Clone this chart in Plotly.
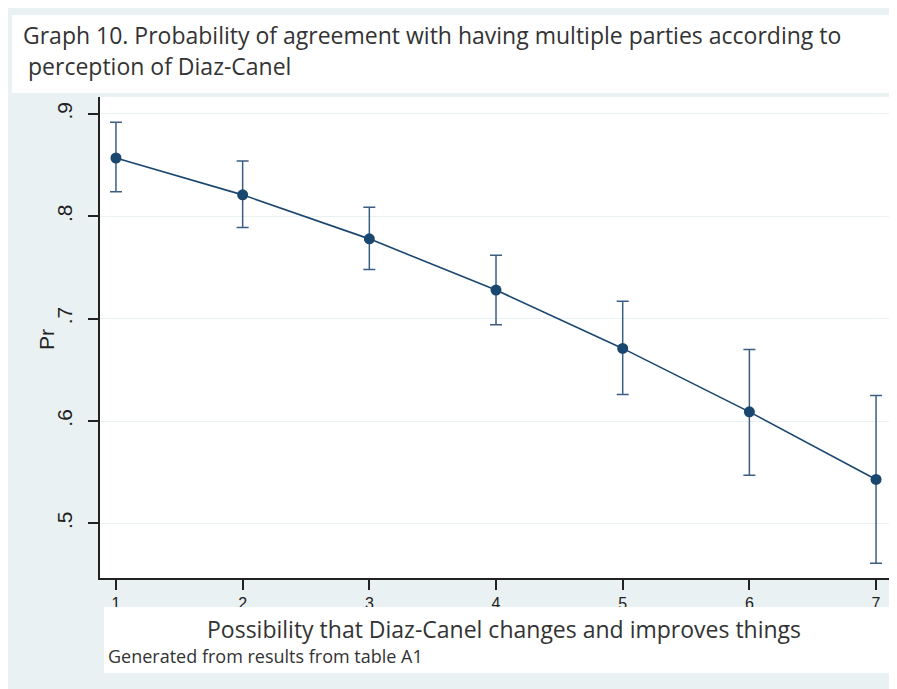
import plotly.graph_objects as go

x_vals = [1, 2, 3, 4, 5, 6, 7]
pr = [0.857, 0.821, 0.778, 0.728, 0.671, 0.609, 0.543]
ci_low = [0.824, 0.789, 0.748, 0.694, 0.626, 0.547, 0.461]
ci_high = [0.892, 0.854, 0.809, 0.762, 0.717, 0.670, 0.625]
y_ticks = [0.5, 0.6, 0.7, 0.8, 0.9]
y_tick_labels = [".5", ".6", ".7", ".8", ".9"]
x_ticks = [1, 2, 3, 4, 5, 6, 7]

title_line1 = "Graph 10. Probability of agreement with having multiple parties according to"
title_line2 = "perception of Diaz-Canel"
x_title = "Possibility that Diaz-Canel changes and improves things"
y_title = "Pr"
note_text = "Generated from results from table A1"

# page offset (body margin) and figure size
OFF = 8
W, H = 897 - OFF, 689 - OFF
L, R, T, B = 100 - OFF, 890 - OFF, 97 - OFF, 578 - OFF
PW, PH = R - L, B - T


def px(x):
    return (x - OFF - L) / PW


def py(y):
    return (B - (y - OFF)) / PH


navy = "#1a476f"
bar_col = "#3b5f82"
txt = "#333333"
axis_col = "#222222"

fig = go.Figure()
fig.add_trace(go.Scatter(
    x=x_vals, y=pr, mode="lines+markers",
    line=dict(color=navy, width=1.6),
    marker=dict(color=navy, size=11),
    error_y=dict(type="data", symmetric=False,
                 array=[h - p for h, p in zip(ci_high, pr)],
                 arrayminus=[p - l for l, p in zip(ci_low, pr)],
                 color=bar_col, thickness=1.5, width=6),
    showlegend=False,
))

fig.update_layout(
    width=W, height=H,
    paper_bgcolor="#eaf1f3", plot_bgcolor="white",
    margin=dict(l=L, r=W - R, t=T, b=H - B, autoexpand=False),
    xaxis=dict(range=[0.874, 7.11], tickvals=x_ticks, ticks="outside", ticklen=10,
               tickcolor=axis_col, tickwidth=1.5, showline=True, linecolor=axis_col, linewidth=1.5,
               showgrid=False, zeroline=False,
               tickfont=dict(family="Liberation Sans", size=16, color=axis_col)),
    yaxis=dict(range=[0.4467, 0.9166], tickvals=y_ticks, ticktext=y_tick_labels,
               ticks="outside", ticklen=10, tickcolor=axis_col, tickwidth=1.5,
               showline=True, linecolor=axis_col, linewidth=1.5, tickangle=-90,
               ticklabelstandoff=8,
               showgrid=True, gridcolor="#eaf1f3", gridwidth=1, zeroline=False,
               tickfont=dict(family="Liberation Sans", size=21, color=axis_col)),
    shapes=[
        dict(type="rect", xref="paper", yref="paper", layer="above",
             x0=px(12), x1=px(893), y0=py(93), y1=py(15),
             fillcolor="white", line=dict(width=0)),
        dict(type="rect", xref="paper", yref="paper", layer="above",
             x0=px(104), x1=px(893), y0=py(673), y1=py(607),
             fillcolor="white", line=dict(width=0)),
    ],
    annotations=[
        dict(text=title_line1, xref="paper", yref="paper", showarrow=False,
             x=px(21), y=py(35), xanchor="left", yanchor="middle",
             font=dict(family="Open Sans", size=23, color=txt)),
        dict(text=title_line2, xref="paper", yref="paper", showarrow=False,
             x=px(26), y=py(66), xanchor="left", yanchor="middle",
             font=dict(family="Open Sans", size=23, color=txt)),
        dict(text=y_title, xref="paper", yref="paper", showarrow=False, textangle=-90,
             x=px(46), y=py(340), xanchor="center", yanchor="middle",
             font=dict(family="Liberation Sans", size=21, color=axis_col)),
        dict(text=x_title, xref="paper", yref="paper", showarrow=False,
             x=px(504), y=py(629), xanchor="center", yanchor="middle",
             font=dict(family="Open Sans", size=23, color=txt)),
        dict(text=note_text, xref="paper", yref="paper", showarrow=False,
             x=px(106), y=py(656), xanchor="left", yanchor="middle",
             font=dict(family="Open Sans", size=18, color=txt)),
    ],
)

fig.write_html("out.html")
